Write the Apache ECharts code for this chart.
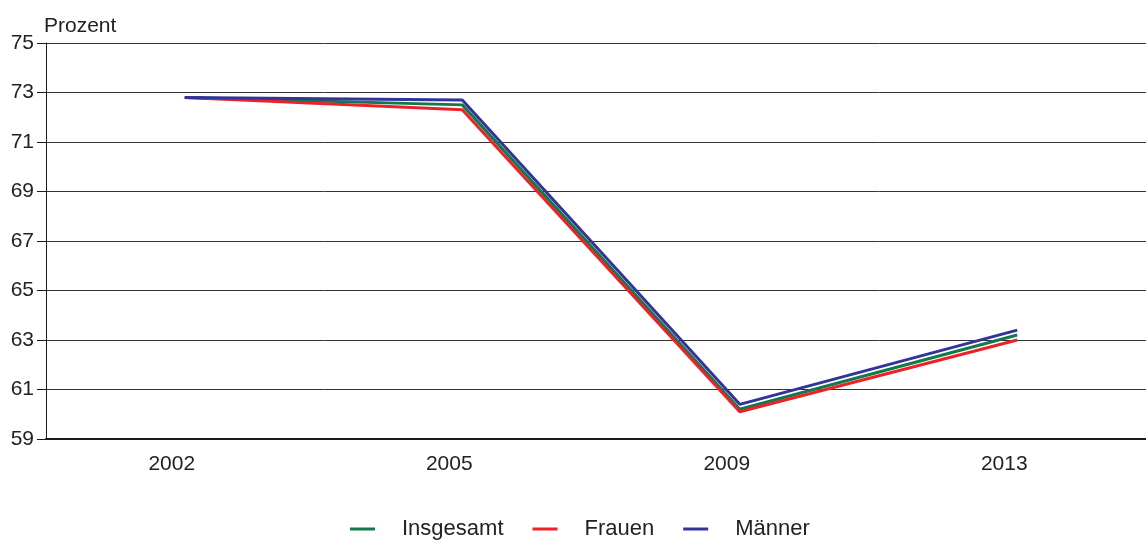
<!DOCTYPE html>
<html>
<head>
<meta charset="utf-8">
<script src="https://cdn.jsdelivr.net/npm/echarts@6/dist/echarts.min.js"></script>
<style>
  html, body { margin: 0; padding: 0; background: #fff; overflow: hidden; }
  /* the plot runs slightly past the right edge of the page */
  #chart { width: 1156px; height: 540px; }
</style>
</head>
<body>
<div id="chart"></div>
<script>
// Survey years
const years = ['2002', '2005', '2009', '2013'];
// Share in percent
const insgesamt = [72.8, 72.5, 60.2, 63.2];
const frauen    = [72.8, 72.3, 60.1, 63.0];
const maenner   = [72.8, 72.7, 60.4, 63.4];
// Y axis range
const yMin = 59, yMax = 75, yStep = 2;

const font = 'Liberation Sans, Arial, sans-serif';
const chart = echarts.init(document.getElementById('chart'));

function lineSeries(name, data, color) {
  return {
    name, type: 'line', data,
    symbol: 'none',
    lineStyle: { width: 3, color },
    itemStyle: { color },
    animation: false
  };
}

chart.setOption({
  backgroundColor: '#fff',
  textStyle: { fontFamily: font },
  grid: { left: 46, top: 43, bottom: 101, right: 0, containLabel: false },
  xAxis: {
    type: 'category',
    data: years,
    boundaryGap: true,
    axisLine: { show: true, lineStyle: { color: '#1a1a1a', width: 2 } },
    axisTick: { show: false },
    axisLabel: { color: '#222', fontSize: 21, fontFamily: font, margin: 15, padding: [0, 26, 0, 0] },
    splitLine: { show: false }
  },
  yAxis: {
    type: 'value',
    min: yMin, max: yMax, interval: yStep,
    name: 'Prozent',
    nameLocation: 'end',
    nameGap: 6,
    nameTextStyle: { color: '#222', fontSize: 21, fontFamily: font, align: 'left', padding: [0, 0, 0, -2] },
    axisLine: { show: true, lineStyle: { color: '#1a1a1a', width: 1 } },
    axisTick: { show: true, inside: false, length: 9, lineStyle: { color: '#1a1a1a' } },
    axisLabel: { color: '#222', fontSize: 21, fontFamily: font, margin: 12 },
    splitLine: { show: true, lineStyle: { color: '#333', width: 1 } }
  },
  legend: {
    top: 513,
    left: 345,
    itemWidth: 25,
    itemHeight: 3,
    itemGap: 29,
    icon: 'rect',
    textStyle: { color: '#222', fontSize: 22, fontFamily: font, padding: [0, 0, 0, 22] },
    data: ['Insgesamt', 'Frauen', 'Männer']
  },
  series: [
    lineSeries('Insgesamt', insgesamt, '#107a4a'),
    lineSeries('Frauen', frauen, '#ee202a'),
    lineSeries('Männer', maenner, '#33349a')
  ]
});
</script>
</body>
</html>
